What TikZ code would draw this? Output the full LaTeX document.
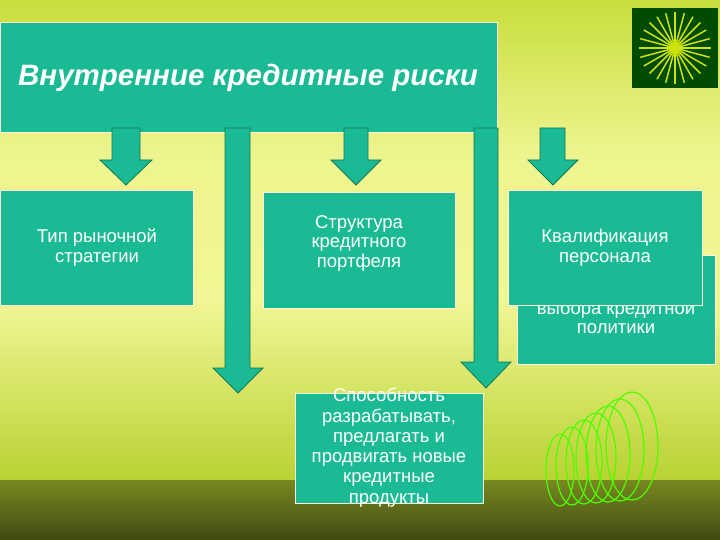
\documentclass[tikz,border=0pt]{standalone}
\usepackage{fontspec}
\setmainfont{Liberation Sans}
\begin{document}
\begin{tikzpicture}[x=1pt,y=-1pt,
  box/.style={draw=white!85!yellow,line width=1.2pt,fill=boxc,minimum width=#1,inner sep=0pt},
  txt/.style={text=white,align=center,font=\fontsize{18.5}{19.5}\selectfont,inner sep=0pt,anchor=north},
  arr/.style={draw=arrd,line width=0.8pt,fill=boxc}]
\definecolor{boxc}{RGB}{26,186,148}
\definecolor{arrd}{RGB}{20,120,80}
\definecolor{bgtop}{RGB}{200,222,60}
\definecolor{bgmid}{RGB}{242,246,150}
\definecolor{bgbot}{RGB}{185,210,50}
\useasboundingbox (0,0) rectangle (720,540);
\shade[top color=bgtop,bottom color=bgmid,middle color=bgmid!90!bgtop] (0,0) rectangle (720,300);
\shade[top color=bgmid,bottom color=bgbot] (0,300) rectangle (720,480);
\shade[top color=black!35!bgbot,bottom color=black!65!bgbot] (0,480) rectangle (720,540);
% decorations
\fill[black!70!green] (632,8) rectangle (718,88);
\foreach \a in {0,15,...,345}{\draw[yellow!80!green,line width=1.5pt] (675,48) -- ++(\a:36);}
\foreach \i in {0,...,6}{\draw[green!70!yellow,line width=1.2pt] (560+\i*12,470-\i*4) ellipse (14+\i*2 and 36+\i*3);}
% title
\node[box=497,minimum height=110,anchor=north west] (t) at (0,22) {};
\node[text=white,font=\bfseries\itshape\fontsize{29.5}{32}\selectfont,anchor=west,inner sep=0pt] (tt) at (18,78) {Внутренние кредитные риски};
% arrows
\draw[arr] (112,128) -- (140,128) -- (140,160) -- (152,160) -- (126,185) -- (100,160) -- (112,160) -- cycle;
\draw[arr] (225,128) -- (250,128) -- (250,368) -- (263,368) -- (238,393) -- (213,368) -- (225,368) -- cycle;
\draw[arr] (344,128) -- (368,128) -- (368,160) -- (381,160) -- (356,185) -- (331,160) -- (344,160) -- cycle;
\draw[arr] (474,128) -- (498,128) -- (498,362) -- (511,362) -- (486,388) -- (461,362) -- (474,362) -- cycle;
\draw[arr] (540,128) -- (565,128) -- (565,160) -- (578,160) -- (553,185) -- (528,160) -- (540,160) -- cycle;
% boxes
\node[box=193,minimum height=115,anchor=north west] (b1) at (0,190) {};
\node[txt] (b1t) at (97,229) {Тип рыночной\\стратегии};
\node[box=192,minimum height=116,anchor=north west] (b2) at (263,192) {};
\node[txt] (b2t) at (359,215) {Структура\\кредитного\\портфеля};
\node[box=198,minimum height=109,anchor=north west] (b3) at (517,255) {};
\node[txt] (b3t) at (616,282) {Правильность\\выбора кредитной\\политики};
\node[box=194,minimum height=115,anchor=north west] (b4) at (508,190) {};
\node[txt] (b4t) at (605,229) {Квалификация\\персонала};
\node[box=188,minimum height=110,anchor=north west] (b5) at (295,393) {};
\node[txt,font=\fontsize{18.5}{20.3}\selectfont] (b5t) at (389,388) {Способность\\разрабатывать,\\предлагать и\\продвигать новые\\кредитные\\продукты};
\end{tikzpicture}
\end{document}
